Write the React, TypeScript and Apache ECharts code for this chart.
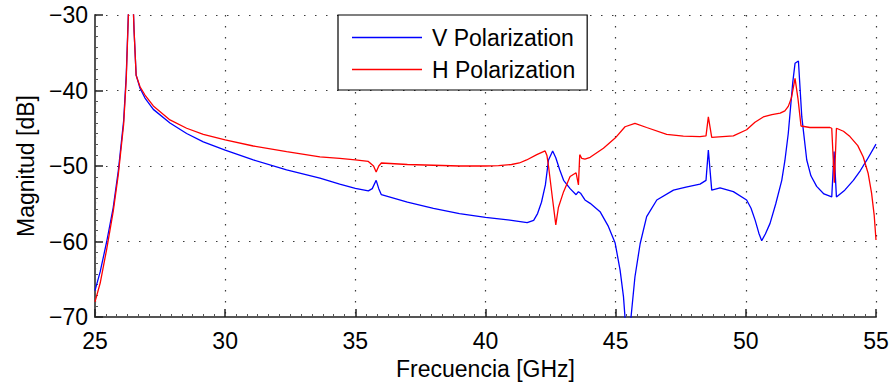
import React, { useEffect, useRef } from "react";
import * as echarts from "echarts";

const xTicks = [25, 30, 35, 40, 45, 50, 55];
const yTicks = [-70, -60, -50, -40, -30];

const vFreq = [25.0, 25.2, 25.45, 25.7, 25.9, 26.1, 26.2, 26.38, 26.5, 26.58, 26.73, 26.92, 27.24, 27.88, 28.52, 29.16, 30.0, 31.08, 32.36, 33.64, 34.4, 35.0, 35.5, 35.65, 35.8, 35.9, 36.0, 37.0, 38.0, 39.0, 40.0, 41.0, 41.6, 41.85, 42.0, 42.15, 42.3, 42.42, 42.58, 42.7, 42.85, 43.0, 43.25, 43.48, 43.57, 43.65, 43.82, 44.02, 44.4, 44.72, 44.98, 45.17, 45.3, 45.36, 45.47, 45.59, 45.74, 45.94, 46.19, 46.58, 47.22, 47.7, 48.24, 48.47, 48.56, 48.69, 49.01, 49.52, 50.03, 50.2, 50.36, 50.5, 50.61, 50.75, 50.93, 51.15, 51.38, 51.5, 51.63, 51.8, 51.89, 52.02, 52.15, 52.34, 52.5, 52.72, 53.0, 53.3, 53.39, 53.48, 53.8, 54.13, 54.4, 54.65, 55.0];
const vMag = [-66.5, -64.0, -60.0, -55.5, -50.5, -44.0, -38.0, -20.0, -32.0, -37.95, -39.7, -41.0, -42.5, -44.3, -45.7, -46.8, -47.9, -49.2, -50.5, -51.6, -52.4, -52.95, -53.3, -53.0, -51.9, -53.0, -53.8, -54.8, -55.6, -56.3, -56.8, -57.2, -57.5, -57.2, -56.3, -54.8, -52.5, -49.2, -48.0, -48.9, -50.5, -51.9, -53.0, -53.8, -53.4, -53.6, -54.5, -54.95, -56.05, -58.0, -60.2, -63.8, -67.3, -70.1, -80.0, -70.0, -64.7, -60.3, -56.7, -54.5, -53.2, -52.8, -52.4, -51.9, -47.9, -53.2, -52.9, -53.4, -54.5, -55.6, -57.2, -58.9, -59.9, -59.0, -57.6, -55.0, -51.9, -49.3, -45.7, -39.0, -36.4, -36.1, -43.5, -49.2, -51.3, -52.7, -53.7, -54.1, -48.1, -54.1, -53.2, -51.9, -50.6, -49.2, -47.1];

const hFreq = [25.0, 25.2, 25.45, 25.7, 25.9, 26.1, 26.2, 26.38, 26.5, 26.58, 26.73, 26.92, 27.24, 27.88, 28.52, 29.16, 30.0, 31.08, 32.36, 33.64, 34.4, 35.0, 35.5, 35.7, 35.8, 35.9, 36.0, 37.0, 38.0, 39.0, 40.0, 40.5, 41.0, 41.3, 41.58, 41.97, 42.29, 42.36, 42.42, 42.58, 42.7, 42.8, 43.0, 43.25, 43.48, 43.57, 43.62, 43.7, 43.82, 44.02, 44.53, 44.98, 45.36, 45.74, 46.19, 46.96, 47.6, 48.24, 48.47, 48.56, 48.69, 49.52, 50.03, 50.35, 50.67, 51.0, 51.32, 51.5, 51.63, 51.75, 51.89, 52.0, 52.12, 52.46, 53.23, 53.3, 53.4, 53.48, 53.75, 54.0, 54.3, 54.51, 54.7, 54.83, 54.93, 55.0];
const hMag = [-68.0, -65.5, -61.0, -56.0, -51.0, -44.5, -38.5, -20.0, -32.0, -38.0, -39.5, -40.6, -42.05, -43.9, -45.0, -45.8, -46.55, -47.35, -48.1, -48.8, -49.0, -49.2, -49.4, -50.0, -50.8, -50.0, -49.6, -49.8, -49.9, -50.0, -50.0, -49.95, -49.8, -49.6, -49.2, -48.5, -48.0, -48.6, -50.0, -54.5, -57.8, -55.5, -53.4, -51.4, -50.9, -52.5, -48.5, -49.0, -49.1, -48.85, -47.65, -46.3, -44.8, -44.35, -44.9, -45.8, -46.05, -46.1, -46.0, -43.5, -46.2, -46.0, -45.2, -44.2, -43.5, -43.2, -43.0, -42.7, -42.1, -41.0, -38.4, -41.0, -44.7, -44.9, -44.9, -45.0, -52.2, -45.0, -45.4, -46.1, -47.3, -48.8, -51.0, -53.6, -56.5, -59.8];

const seriesNames = ["V Polarization", "H Polarization"];
const xName = "Frecuencia [GHz]";
const yName = "Magnitud [dB]";

const FONT = "'Liberation Sans', Arial, Helvetica, sans-serif";

export default function App() {
  const ref = useRef<HTMLDivElement>(null);
  useEffect(() => {
    document.body.style.margin = "0";
    if (!ref.current) return;
    const chart = echarts.init(ref.current, null, { renderer: "svg" });
    const grid = "#3a3a3a";
    const axisCommon = {
      axisLine: { show: true, onZero: false, lineStyle: { color: "#555", width: 2 } },
      axisTick: { show: true, inside: true, length: 8, lineStyle: { color: "#222", width: 1.5 } },
      minorTick: { show: true, length: 3, lineStyle: { color: "#555", width: 1 } },
      splitLine: { show: true, lineStyle: { color: grid, width: 1.2, type: [1.5, 9.5] } },
      axisLabel: {
        color: "#000",
        fontSize: 23,
        fontFamily: FONT,
        formatter: (v: number) => String(v).replace("-", "\u2212"),
      },
      nameTextStyle: { color: "#000", fontSize: 23, fontFamily: FONT },
      nameLocation: "middle" as const,
    };
    chart.setOption({
      animation: false,
      textStyle: { fontFamily: FONT },
      grid: { left: 95, right: 18, top: 15, bottom: 68, containLabel: false },
      legend: {
        show: true,
        data: seriesNames.map((n) => ({ name: n, icon: "rect" })),
        orient: "vertical",
        left: 338,
        top: 15,
        backgroundColor: "#fff",
        borderColor: "#000",
        borderWidth: 1.2,
        borderRadius: 0,
        padding: [11, 12, 9, 14],
        itemGap: 9,
        itemWidth: 70,
        itemHeight: 1.4,
        textStyle: { color: "#000", fontSize: 23, fontFamily: FONT, lineHeight: 23, padding: [0, 0, 0, 5] },
      },
      xAxis: {
        ...axisCommon,
        type: "value",
        min: xTicks[0],
        max: xTicks[xTicks.length - 1],
        interval: xTicks[1] - xTicks[0],
        minorTick: { ...axisCommon.minorTick, splitNumber: 12 },
        axisLabel: { ...axisCommon.axisLabel, margin: 12 },
        name: xName,
        nameGap: 40,
      },
      yAxis: {
        ...axisCommon,
        type: "value",
        min: yTicks[0],
        max: yTicks[yTicks.length - 1],
        interval: yTicks[1] - yTicks[0],
        minorTick: { ...axisCommon.minorTick, splitNumber: 7 },
        axisLabel: { ...axisCommon.axisLabel, margin: 7 },
        name: yName,
        nameGap: 58,
        nameRotate: 90,
      },
      series: [
        {
          name: seriesNames[0],
          type: "line",
          symbol: "none",
          clip: true,
          lineStyle: { color: "#0000ff", width: 1.3 },
          itemStyle: { color: "#0000ff" },
          data: vFreq.map((f, i) => [f, vMag[i]]),
        },
        {
          name: seriesNames[1],
          type: "line",
          symbol: "none",
          clip: true,
          lineStyle: { color: "#ff0000", width: 1.3 },
          itemStyle: { color: "#ff0000" },
          data: hFreq.map((f, i) => [f, hMag[i]]),
        },
      ],
    });
    return () => chart.dispose();
  }, []);
  return <div ref={ref} style={{ width: 894, height: 385 }} />;
}
